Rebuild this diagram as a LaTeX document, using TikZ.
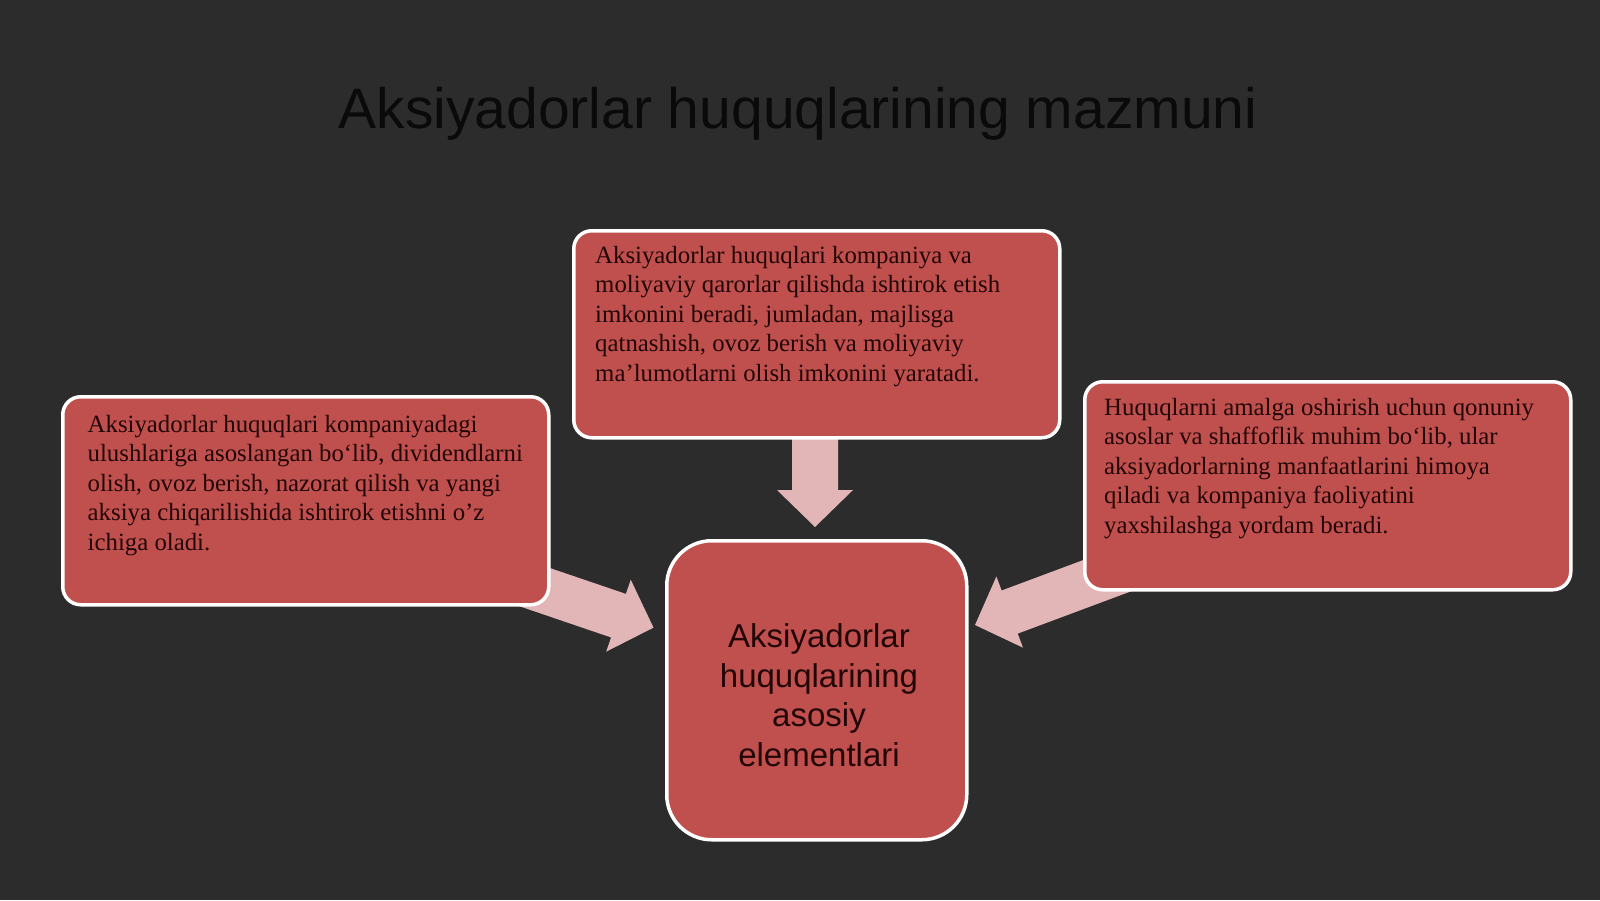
\documentclass[tikz,border=0pt]{standalone}
\usepackage{fontspec}
\setmainfont{Liberation Serif}
\newfontfamily\sansf{Liberation Sans}
\usetikzlibrary{calc}
\definecolor{bg}{RGB}{44,44,44}
\definecolor{boxred}{RGB}{192,80,77}
\definecolor{arrowpink}{RGB}{226,182,182}
\definecolor{txt}{RGB}{34,6,6}
\definecolor{titlec}{RGB}{10,10,10}
\newcommand\fatarrow[2]{%
  \coordinate (#1-base) at ($(#2)!37pt!(#1)$);
  \fill[arrowpink]
    ($(#1)!23pt!90:(#2)$) --
    ($(#1-base)!23pt!-90:(#1)$) --
    ($(#1-base)!38pt!-90:(#1)$) --
    (#2) --
    ($(#1-base)!38pt!90:(#1)$) --
    ($(#1-base)!23pt!90:(#1)$) --
    ($(#1)!23pt!-90:(#2)$) -- cycle;
}
\begin{document}
\begin{tikzpicture}[x=1pt,y=-1pt,
  infobox/.style={draw=white,line width=3.5pt,fill=boxred,rounded corners=18pt,inner sep=0pt,anchor=north west},
  boxtext/.style={anchor=north west,inner sep=0pt,align=left,text=txt,font=\fontsize{24.8}{29.5}\selectfont},
]
\fill[bg] (0,0) rectangle (1600,900);
\useasboundingbox (0,0) rectangle (1600,900);

% title
\node[anchor=base,inner sep=0pt,text=titlec,font=\sansf\fontsize{57}{64}\selectfont] (title) at (798,128) {Aksiyadorlar huquqlarining mazmuni};

% arrow coordinates
\coordinate (ttail) at (815,420);
\coordinate (ttip) at (815,527);
\coordinate (ltail) at (502,576);
\coordinate (ltip) at (653.5,627.6);
\coordinate (rtail) at (1125,569);
\coordinate (rtip) at (975,625);
\fatarrow{ttail}{ttip}
\fatarrow{ltail}{ltip}
\fatarrow{rtail}{rtip}

% boxes
\node[infobox,minimum width=486pt,minimum height=207pt] (topbox) at (572,229) {};
\node[infobox,minimum width=486pt,minimum height=208pt] (leftbox) at (61,395) {};
\node[infobox,minimum width=486pt,minimum height=208pt] (rightbox) at (1083,380) {};
\node[infobox,rounded corners=45pt,minimum width=300pt,minimum height=299pt] (cbox) at (665,539) {};

% texts
\node[boxtext] (toptext) at (595,233) {\rule{0pt}{30pt}Aksiyadorlar huquqlari kompaniya va\\
moliyaviy qarorlar qilishda ishtirok etish\\
imkonini beradi, jumladan, majlisga\\
qatnashish, ovoz berish va moliyaviy\\
ma'lumotlarni olish imkonini yaratadi.};
\node[boxtext] (lefttext) at (87.5,402) {\rule{0pt}{30pt}Aksiyadorlar huquqlari kompaniyadagi\\
ulushlariga asoslangan bo‘lib, dividendlarni\\
olish, ovoz berish, nazorat qilish va yangi\\
aksiya chiqarilishida ishtirok etishni o'z\\
ichiga oladi.};
\node[boxtext] (righttext) at (1104,385) {\rule{0pt}{30pt}Huquqlarni amalga oshirish uchun qonuniy\\
asoslar va shaffoflik muhim bo‘lib, ular\\
aksiyadorlarning manfaatlarini himoya\\
qiladi va kompaniya faoliyatini\\
yaxshilashga yordam beradi.};
\node[anchor=north,inner sep=0pt,align=center,text=txt,font=\sansf\fontsize{33}{39.8}\selectfont] (ctext) at (819,617) {\rule{0pt}{30pt}Aksiyadorlar\\huquqlarining\\asosiy\\elementlari};
\end{tikzpicture}
\end{document}
